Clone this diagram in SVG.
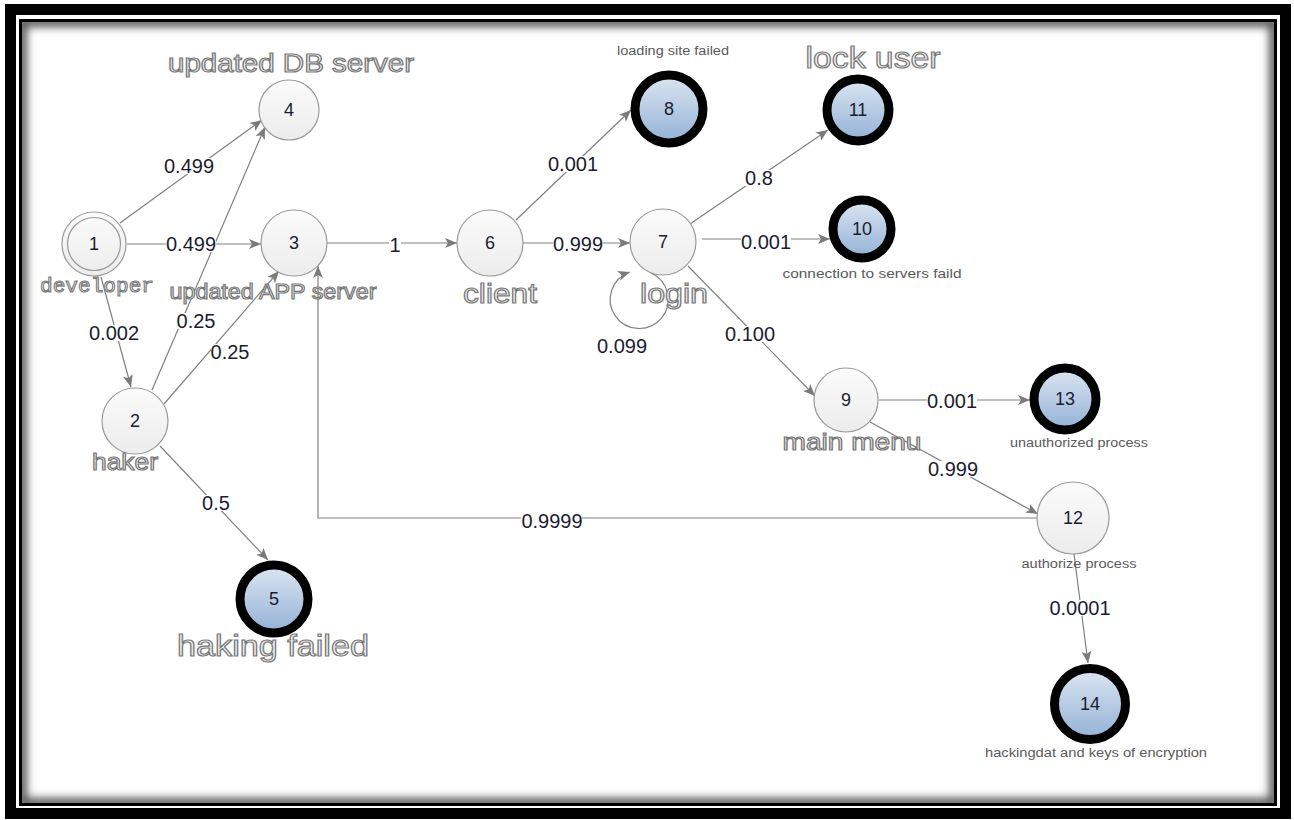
<svg xmlns="http://www.w3.org/2000/svg" width="1294" height="820" viewBox="0 0 1294 820">
<style>
.edge{fill:none;stroke:#808080;stroke-width:1.2}
.plain{fill:url(#gPlain);stroke:#9a9a9a;stroke-width:1.2}
.final{fill:url(#gFinal);stroke:#000;stroke-width:9}
.num{font-family:"Liberation Sans",Arial,sans-serif;font-size:18px;fill:#1c1c30;text-anchor:middle}
.el{font-family:"Liberation Sans",Arial,sans-serif;font-size:20px;fill:#1c1c30;text-anchor:middle}
.big{font-family:"Liberation Sans",Arial,sans-serif;fill:#f2f2f2;stroke:#7a7a7a;stroke-width:1.2;text-anchor:middle}
.mono{font-family:"Liberation Mono","Courier New",monospace;fill:#f2f2f2;stroke:#7a7a7a;stroke-width:1.1;text-anchor:middle}
.small{font-family:"Liberation Sans",Arial,sans-serif;font-size:12px;fill:#5a5a5a;text-anchor:middle}
.bg{fill:#ffffff}
</style>
<defs>
<linearGradient id="gPlain" x1="0" y1="0" x2="0" y2="1"><stop offset="0" stop-color="#fbfbfb"/><stop offset="1" stop-color="#ececec"/></linearGradient>
<linearGradient id="gFinal" x1="0" y1="0" x2="0" y2="1"><stop offset="0" stop-color="#dce6f2"/><stop offset="1" stop-color="#93b1d6"/></linearGradient>
<marker id="arr" viewBox="0 0 12 10" refX="12" refY="5" markerWidth="12" markerHeight="10" orient="auto" markerUnits="userSpaceOnUse"><path d="M0,0 L12,5 L0,10 L3,5 z" fill="#7a7a7a"/></marker>
<clipPath id="innerClip"><rect x="22" y="22" width="1252" height="781"/></clipPath>
<filter id="blur" x="-5%" y="-5%" width="110%" height="110%"><feGaussianBlur stdDeviation="4"/></filter>
</defs>
<rect x="0" y="0" width="1294" height="820" fill="#ffffff"/>
<g id="frame">
<rect x="10.5" y="9.5" width="1275" height="804" fill="none" stroke="#000" stroke-width="11"/>
<rect x="20.5" y="20.5" width="1255" height="784" fill="none" stroke="#000" stroke-width="3"/>
<g clip-path="url(#innerClip)"><rect x="22" y="22" width="1252" height="781" fill="none" stroke="#555" stroke-width="10" filter="url(#blur)"/></g>
</g>
<g id="connectors">
<path class="edge" d="M120,223 L262,120" marker-end="url(#arr)"/>
<path class="edge" d="M127,244 L261,244" marker-end="url(#arr)"/>
<path class="edge" d="M101,277 L131,387" marker-end="url(#arr)"/>
<path class="edge" d="M152,390 L265,127" marker-end="url(#arr)"/>
<path class="edge" d="M164,404 L279,271" marker-end="url(#arr)"/>
<path class="edge" d="M160,446 L268,560" marker-end="url(#arr)"/>
<path class="edge" d="M327,243 L457,243" marker-end="url(#arr)"/>
<path class="edge" d="M516,220 L631,110" marker-end="url(#arr)"/>
<path class="edge" d="M523,243 L630,243" marker-end="url(#arr)"/>
<path class="edge" d="M651,273 A29,29 0 1 1 630,272" marker-end="url(#arr)"/>
<path class="edge" d="M690,224 L828,130" marker-end="url(#arr)"/>
<path class="edge" d="M702,239 L830,239" marker-end="url(#arr)"/>
<path class="edge" d="M688,266 L815,396" marker-end="url(#arr)"/>
<path class="edge" d="M879,400 L1030,400" marker-end="url(#arr)"/>
<path class="edge" d="M870,422 L1038,514" marker-end="url(#arr)"/>
<path class="edge" d="M1037,518 L318,518 L318,266" marker-end="url(#arr)"/>
<path class="edge" d="M1074,554 L1088,663" marker-end="url(#arr)"/>
<g id="edge-labels">
<rect class="bg" x="164" y="158" width="50" height="16"/><text class="el" x="189" y="173">0.499</text>
<rect class="bg" x="166" y="236" width="50" height="16"/><text class="el" x="191" y="251">0.499</text>
<rect class="bg" x="89" y="325" width="50" height="16"/><text class="el" x="114" y="340">0.002</text>
<rect class="bg" x="177" y="313" width="39" height="16"/><text class="el" x="196" y="328">0.25</text>
<rect class="bg" x="211" y="344" width="39" height="16"/><text class="el" x="230" y="359">0.25</text>
<rect class="bg" x="202" y="495" width="28" height="16"/><text class="el" x="216" y="510">0.5</text>
<rect class="bg" x="389" y="237" width="12" height="16"/><text class="el" x="395" y="252">1</text>
<rect class="bg" x="548" y="156" width="50" height="16"/><text class="el" x="573" y="171">0.001</text>
<rect class="bg" x="553" y="236" width="50" height="16"/><text class="el" x="578" y="251">0.999</text>
<text class="el" x="622" y="353">0.099</text>
<rect class="bg" x="745" y="170" width="28" height="16"/><text class="el" x="759" y="185">0.8</text>
<rect class="bg" x="741" y="234" width="50" height="16"/><text class="el" x="766" y="249">0.001</text>
<rect class="bg" x="725" y="326" width="50" height="16"/><text class="el" x="750" y="341">0.100</text>
<rect class="bg" x="927" y="393" width="50" height="16"/><text class="el" x="952" y="408">0.001</text>
<rect class="bg" x="928" y="461" width="50" height="16"/><text class="el" x="953" y="476">0.999</text>
<rect class="bg" x="521" y="513" width="61" height="16"/><text class="el" x="552" y="528">0.9999</text>
<rect class="bg" x="1049" y="600" width="61" height="16"/><text class="el" x="1080" y="615">0.0001</text>
</g>
</g>
<g id="node1"><circle class="plain" cx="94" cy="244" r="32"/><circle cx="94" cy="244" r="26.5" fill="none" stroke="#9a9a9a" stroke-width="1.2"/><text class="num" x="94" y="250">1</text><text class="mono" x="97" y="292" font-size="21" textLength="114" lengthAdjust="spacingAndGlyphs">developer</text></g>
<g id="node2"><circle class="plain" cx="135" cy="421" r="33"/><text class="num" x="135" y="427">2</text><text class="big" x="125" y="470" font-size="24" textLength="66" lengthAdjust="spacingAndGlyphs">haker</text></g>
<g id="node3"><circle class="plain" cx="294" cy="243" r="33"/><text class="num" x="294" y="249">3</text><text class="big" x="273" y="299" font-size="22" textLength="207" lengthAdjust="spacingAndGlyphs">updated APP server</text></g>
<g id="node4"><circle class="plain" cx="289" cy="110" r="30"/><text class="num" x="289" y="116">4</text><text class="big" x="291" y="72" font-size="25" textLength="246" lengthAdjust="spacingAndGlyphs">updated DB server</text></g>
<g id="node5"><circle class="final" cx="274" cy="599" r="34"/><text class="num" x="274" y="605">5</text><text class="big" x="273" y="656" font-size="30" textLength="192" lengthAdjust="spacingAndGlyphs">haking failed</text></g>
<g id="node6"><circle class="plain" cx="490" cy="243" r="33"/><text class="num" x="490" y="249">6</text><text class="big" x="500" y="303" font-size="28" textLength="74" lengthAdjust="spacingAndGlyphs">client</text></g>
<g id="node7"><circle class="plain" cx="663" cy="242" r="33"/><text class="num" x="663" y="248">7</text><text class="big" x="674" y="303" font-size="28" textLength="68" lengthAdjust="spacingAndGlyphs">login</text></g>
<g id="node8"><circle class="final" cx="669" cy="109" r="34"/><text class="num" x="669" y="115">8</text><text class="small" x="673" y="55" textLength="112" lengthAdjust="spacingAndGlyphs">loading site failed</text></g>
<g id="node9"><circle class="plain" cx="846" cy="400" r="32"/><text class="num" x="846" y="406">9</text><text class="big" x="852" y="450" font-size="24" textLength="139" lengthAdjust="spacingAndGlyphs">main menu</text></g>
<g id="node10"><circle class="final" cx="862" cy="229" r="29"/><text class="num" x="862" y="235">10</text><text class="small" x="872" y="278" textLength="179" lengthAdjust="spacingAndGlyphs">connection to servers faild</text></g>
<g id="node11"><circle class="final" cx="858" cy="110" r="31"/><text class="num" x="858" y="116">11</text><text class="big" x="873" y="68" font-size="30" textLength="135" lengthAdjust="spacingAndGlyphs">lock user</text></g>
<g id="node12"><circle class="plain" cx="1073" cy="518" r="36"/><text class="num" x="1073" y="524">12</text><text class="small" x="1079" y="568" textLength="115" lengthAdjust="spacingAndGlyphs">authorize process</text></g>
<g id="node13"><circle class="final" cx="1065" cy="399" r="31"/><text class="num" x="1065" y="405">13</text><text class="small" x="1079" y="447" textLength="138" lengthAdjust="spacingAndGlyphs">unauthorized process</text></g>
<g id="node14"><circle class="final" cx="1090" cy="704" r="35.5"/><text class="num" x="1090" y="710">14</text><text class="small" x="1096" y="757" textLength="222" lengthAdjust="spacingAndGlyphs">hackingdat and keys of encryption</text></g>
</svg>
